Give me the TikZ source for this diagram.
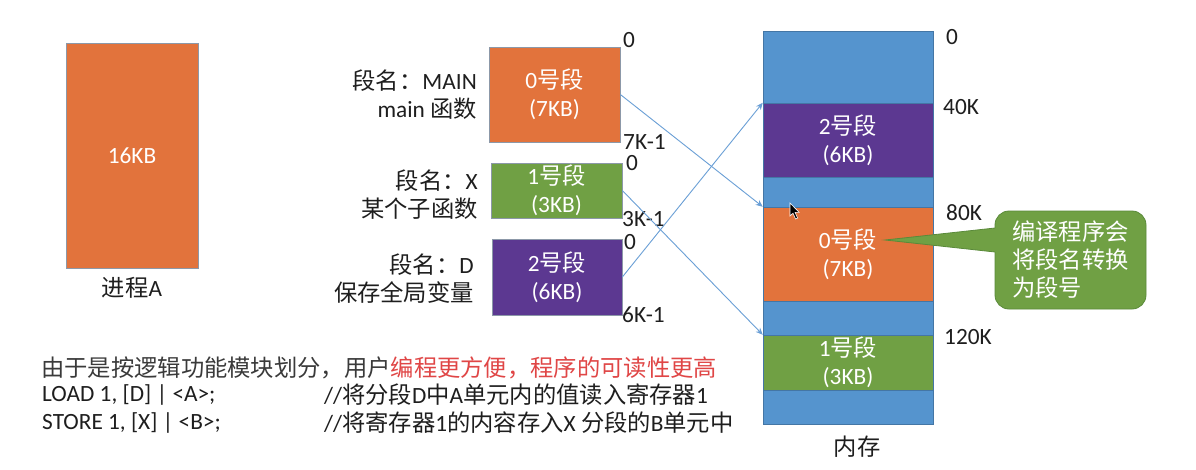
\documentclass[tikz,border=0pt]{standalone}
\usepackage{fontspec}
\setmainfont{Carlito}
\newfontfamily\cjkf{Noto Sans CJK SC}
\usetikzlibrary{arrows.meta}

\definecolor{segorange}{HTML}{E2733C}
\definecolor{seggreen}{HTML}{70A044}
\definecolor{segpurple}{HTML}{5C3891}
\definecolor{memblue}{HTML}{5594CE}
\definecolor{edgegray}{HTML}{8C98A8}
\definecolor{linkblue}{HTML}{6A9FD6}
\definecolor{calledge}{HTML}{5A8A3A}
\definecolor{inktext}{HTML}{1E1E1E}
\definecolor{notegray}{HTML}{3A3A3A}
\definecolor{hlred}{HTML}{E04646}

\begin{document}
\begin{tikzpicture}[x=1pt,y=-1pt,
  every node/.style={inner sep=0pt, text=inktext,
    font=\fontsize{23.3}{28}\selectfont},
  blockbox/.style={draw=edgegray, line width=0.7pt, align=center, text=white},
  membox/.style={draw=memblue!80!black, line width=0.5pt, align=center,
    text=white, minimum width=170},
  addr/.style={anchor=west},
  conn/.style={draw=linkblue, line width=0.9pt,
    -{Stealth[length=7pt,width=6pt]}},
  callbox/.style={fill=seggreen, draw=calledge, line width=0.8pt,
    rounded corners=14, minimum width=151, minimum height=98,
    align=left, text=white}]

\fill[white] (0,0) rectangle (1196,469);
\useasboundingbox (0,0) rectangle (1196,469);

% process A
\node[blockbox, fill=segorange, minimum width=132, minimum height=225]
  (proc) at (132,155.5) {16KB};
\node (procl) at (132,288) {{\cjkf 进程}A};

% logical segments of process A
\node[blockbox, fill=segorange, minimum width=131, minimum height=95]
  (seg0) at (554.5,94.5) {0{\cjkf 号段}\\(7KB)};
\node[blockbox, fill=seggreen, minimum width=131, minimum height=55]
  (seg1) at (556.5,190.5) {1{\cjkf 号段}\\(3KB)};
\node[blockbox, fill=segpurple, minimum width=130, minimum height=76]
  (seg2) at (557,277) {2{\cjkf 号段}\\(6KB)};

% segment names
\node[anchor=east, align=right] (lab0) at (477,94.5)
  {{\cjkf 段名：}MAIN\\main {\cjkf 函数}};
\node[anchor=east, align=right] (lab1) at (478,194.5)
  {{\cjkf 段名：}X\\{\cjkf 某个子函数}};
\node[anchor=east, align=right] (lab2) at (474,279)
  {{\cjkf 段名：}D\\{\cjkf 保存全局变量}};

% segment address bounds
\node[addr] (a00) at (623,40) {0};
\node[addr] (a01) at (623,142) {7K-1};
\node[addr] (a10) at (626,163) {0};
\node[addr] (a11) at (622,219) {3K-1};
\node[addr] (a20) at (624,242) {0};
\node[addr] (a21) at (622,315) {6K-1};

% main memory
\node[membox, fill=memblue, minimum height=393] (mem) at (848,227.5) {};
\node[membox, fill=segpurple, minimum height=74] (m2) at (848,140)
  {2{\cjkf 号段}\\(6KB)};
\node[membox, fill=segorange, minimum height=94] (m0) at (848,254)
  {0{\cjkf 号段}\\(7KB)};
\node[membox, fill=seggreen, minimum height=55] (m1) at (848,362.5)
  {1{\cjkf 号段}\\(3KB)};
\node (meml) at (857,447) {\cjkf 内存};

\node[addr] (k0) at (946,37) {0};
\node[addr] (k40) at (943,107) {40K};
\node[addr] (k80) at (946,213) {80K};
\node[addr] (k120) at (944,337) {120K};

% segment placement
\draw[conn] (seg0.east) -- (m0.north west);
\draw[conn] (seg1.east) -- (m1.north west);
\draw[conn] (seg2.east) -- (m2.north west);

% mouse pointer
\filldraw[fill=black, draw=white, line width=0.6pt]
  (790,203) -- (790,216) -- (793,213.2) -- (795.6,219) -- (797.6,218.1)
  -- (795.1,212.4) -- (799.2,212.4) -- cycle;

% callout
\node[callbox] (note) at (1070.5,260)
  {{\cjkf 编译程序会}\\{\cjkf 将段名转换}\\{\cjkf 为段号}};
\coordinate (tip) at (885,240);
\fill[seggreen] (tip) -- (995,228) -- (1001,228) -- (1001,252) -- (995,252) -- cycle;
\draw[calledge, line width=0.8pt] (995,228) -- (tip) -- (995,252);

% explanation and instructions
\node[anchor=west, text=notegray] (remark) at (41,368)
  {\cjkf 由于是按逻辑功能模块划分，用户\textcolor{hlred}{编程更方便，程序的可读性更高}};
\node[anchor=west] (load) at (42,395) {LOAD 1, [D] | <A>;};
\node[anchor=west] (loadc) at (324,395)
  {//{\cjkf 将分段}D{\cjkf 中}A{\cjkf 单元内的值读入寄存器}1};
\node[anchor=west] (store) at (42,423) {STORE 1, [X] | <B>;};
\node[anchor=west] (storec) at (324,423)
  {//{\cjkf 将寄存器}1{\cjkf 的内容存入}X {\cjkf 分段的}B{\cjkf 单元中}};
\end{tikzpicture}
\end{document}
